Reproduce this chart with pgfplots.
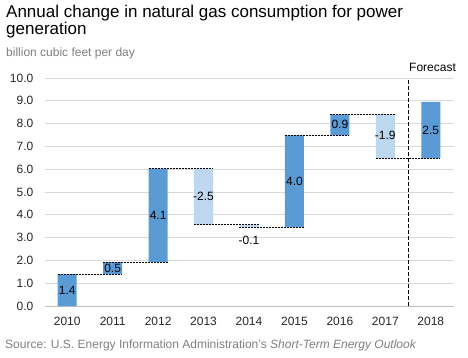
\documentclass[border=0pt]{standalone}
\usepackage{fontspec}
\setmainfont{Liberation Sans}
\usepackage{pgfplots}
\pgfplotsset{compat=1.18}
\definecolor{incblue}{HTML}{5B9BD5}
\definecolor{decblue}{HTML}{BDD7EE}
\definecolor{gridgray}{HTML}{D9D9D9}
\definecolor{axisgray}{HTML}{BFBFBF}
\definecolor{subgray}{HTML}{7F7F7F}
\begin{document}
\begin{tikzpicture}[x=1pt,y=1pt]
\path[use as bounding box] (0,0) rectangle (468,357);
\node[anchor=base west,inner sep=0pt,font=\fontsize{17}{18}\selectfont] at (6,339.5) {Annual change in natural gas consumption for power};
\node[anchor=base west,inner sep=0pt,font=\fontsize{17}{18}\selectfont] at (6,322) {generation};
\node[anchor=base west,inner sep=0pt,font=\fontsize{12}{14}\selectfont,text=subgray] at (6,300.3) {billion cubic feet per day};
\node[anchor=base west,inner sep=0pt,font=\fontsize{12}{14}\selectfont,text=subgray] at (5,9) {Source: U.S. Energy Information Administration's \textit{Short-Term Energy Outlook}};
\node[anchor=base west,inner sep=0pt,font=\fontsize{12}{14}\selectfont] at (409,286) {Forecast};
\begin{axis}[
  at={(44.5pt,51pt)}, anchor=south west,
  width=409pt, height=228pt, scale only axis,
  xmin=-0.5, xmax=8.5, ymin=0, ymax=10,
  ybar stacked, bar width=19pt,
  clip=false,
  separate axis lines,
  axis x line*=bottom,
  axis y line*=left,
  y axis line style={draw=none},
  x axis line style={draw=axisgray, line width=0.8pt},
  ytick={0,1,...,10},
  ytick style={draw=none},
  ymajorgrids,
  grid style={draw=gridgray, line width=0.8pt},
  xtick={0,1,...,8},
  xticklabels={2010,2011,2012,2013,2014,2015,2016,2017,2018},
  xtick style={draw=none},
  extra x ticks={-0.5,0.5,1.5,2.5,3.5,4.5,5.5,6.5,7.5,8.5},
  extra x tick labels={},
  extra x tick style={grid=none, tick align=outside, major tick length=5pt, tick style={draw=axisgray, line width=0.8pt}},
  /pgf/number format/assume math mode=true,
  yticklabel style={/pgf/number format/fixed, /pgf/number format/fixed zerofill, /pgf/number format/precision=1, font=\fontsize{12}{14}\selectfont, text=black!85, inner sep=0pt, anchor=east, xshift=-11pt},
  xticklabel style={font=\fontsize{12}{14}\selectfont, text=black!85, inner sep=0pt, anchor=north, yshift=-10.5pt},
]
% base (invisible), increase, decrease
\addplot[fill=none, draw=none] coordinates {(0,0) (1,1.4) (2,1.92) (3,3.57) (4,3.46) (5,3.46) (6,7.48) (7,6.48) (8,6.48)};
\addplot[fill=incblue, draw=none] coordinates {(0,1.4) (1,0.52) (2,4.11) (3,0) (4,0) (5,4.02) (6,0.93) (7,0) (8,2.47)};
\addplot[fill=decblue, draw=none] coordinates {(0,0) (1,0) (2,0) (3,2.46) (4,0.11) (5,0) (6,0) (7,1.93) (8,0)};
\end{axis}
\begin{axis}[
  at={(44.5pt,51pt)}, anchor=south west,
  width=409pt, height=228pt, scale only axis,
  xmin=-0.5, xmax=8.5, ymin=0, ymax=10,
  axis lines=none, clip=false,
  conn/.style={black, line width=0.7pt, dash pattern=on 2pt off 1pt, mark=none},
]
\addplot[conn] coordinates {(-0.21,1.4) (1.21,1.4)};
\addplot[conn] coordinates {(0.79,1.92) (2.21,1.92)};
\addplot[conn] coordinates {(1.79,6.03) (3.21,6.03)};
\addplot[conn] coordinates {(2.79,3.57) (4.21,3.57)};
\addplot[conn] coordinates {(3.79,3.46) (5.21,3.46)};
\addplot[conn] coordinates {(4.79,7.48) (6.21,7.48)};
\addplot[conn] coordinates {(5.79,8.41) (7.21,8.41)};
\addplot[conn] coordinates {(6.79,6.48) (8.21,6.48)};
\addplot[black, line width=0.8pt, dash pattern=on 4pt off 2pt, mark=none] coordinates {(7.5,0) (7.5,9.9)};
\begin{scope}[every node/.style={font=\fontsize{12}{14}\selectfont, inner sep=0pt}]
\node at (axis cs:0,0.7) {1.4};
\node at (axis cs:1,1.66) {0.5};
\node at (axis cs:2,3.97) {4.1};
\node at (axis cs:3,4.8) {-2.5};
\node at (axis cs:4,2.9) {-0.1};
\node at (axis cs:5,5.47) {4.0};
\node at (axis cs:6,7.95) {0.9};
\node at (axis cs:7,7.48) {-1.9};
\node at (axis cs:8,7.7) {2.5};
\end{scope}
\end{axis}
\end{tikzpicture}
\end{document}
